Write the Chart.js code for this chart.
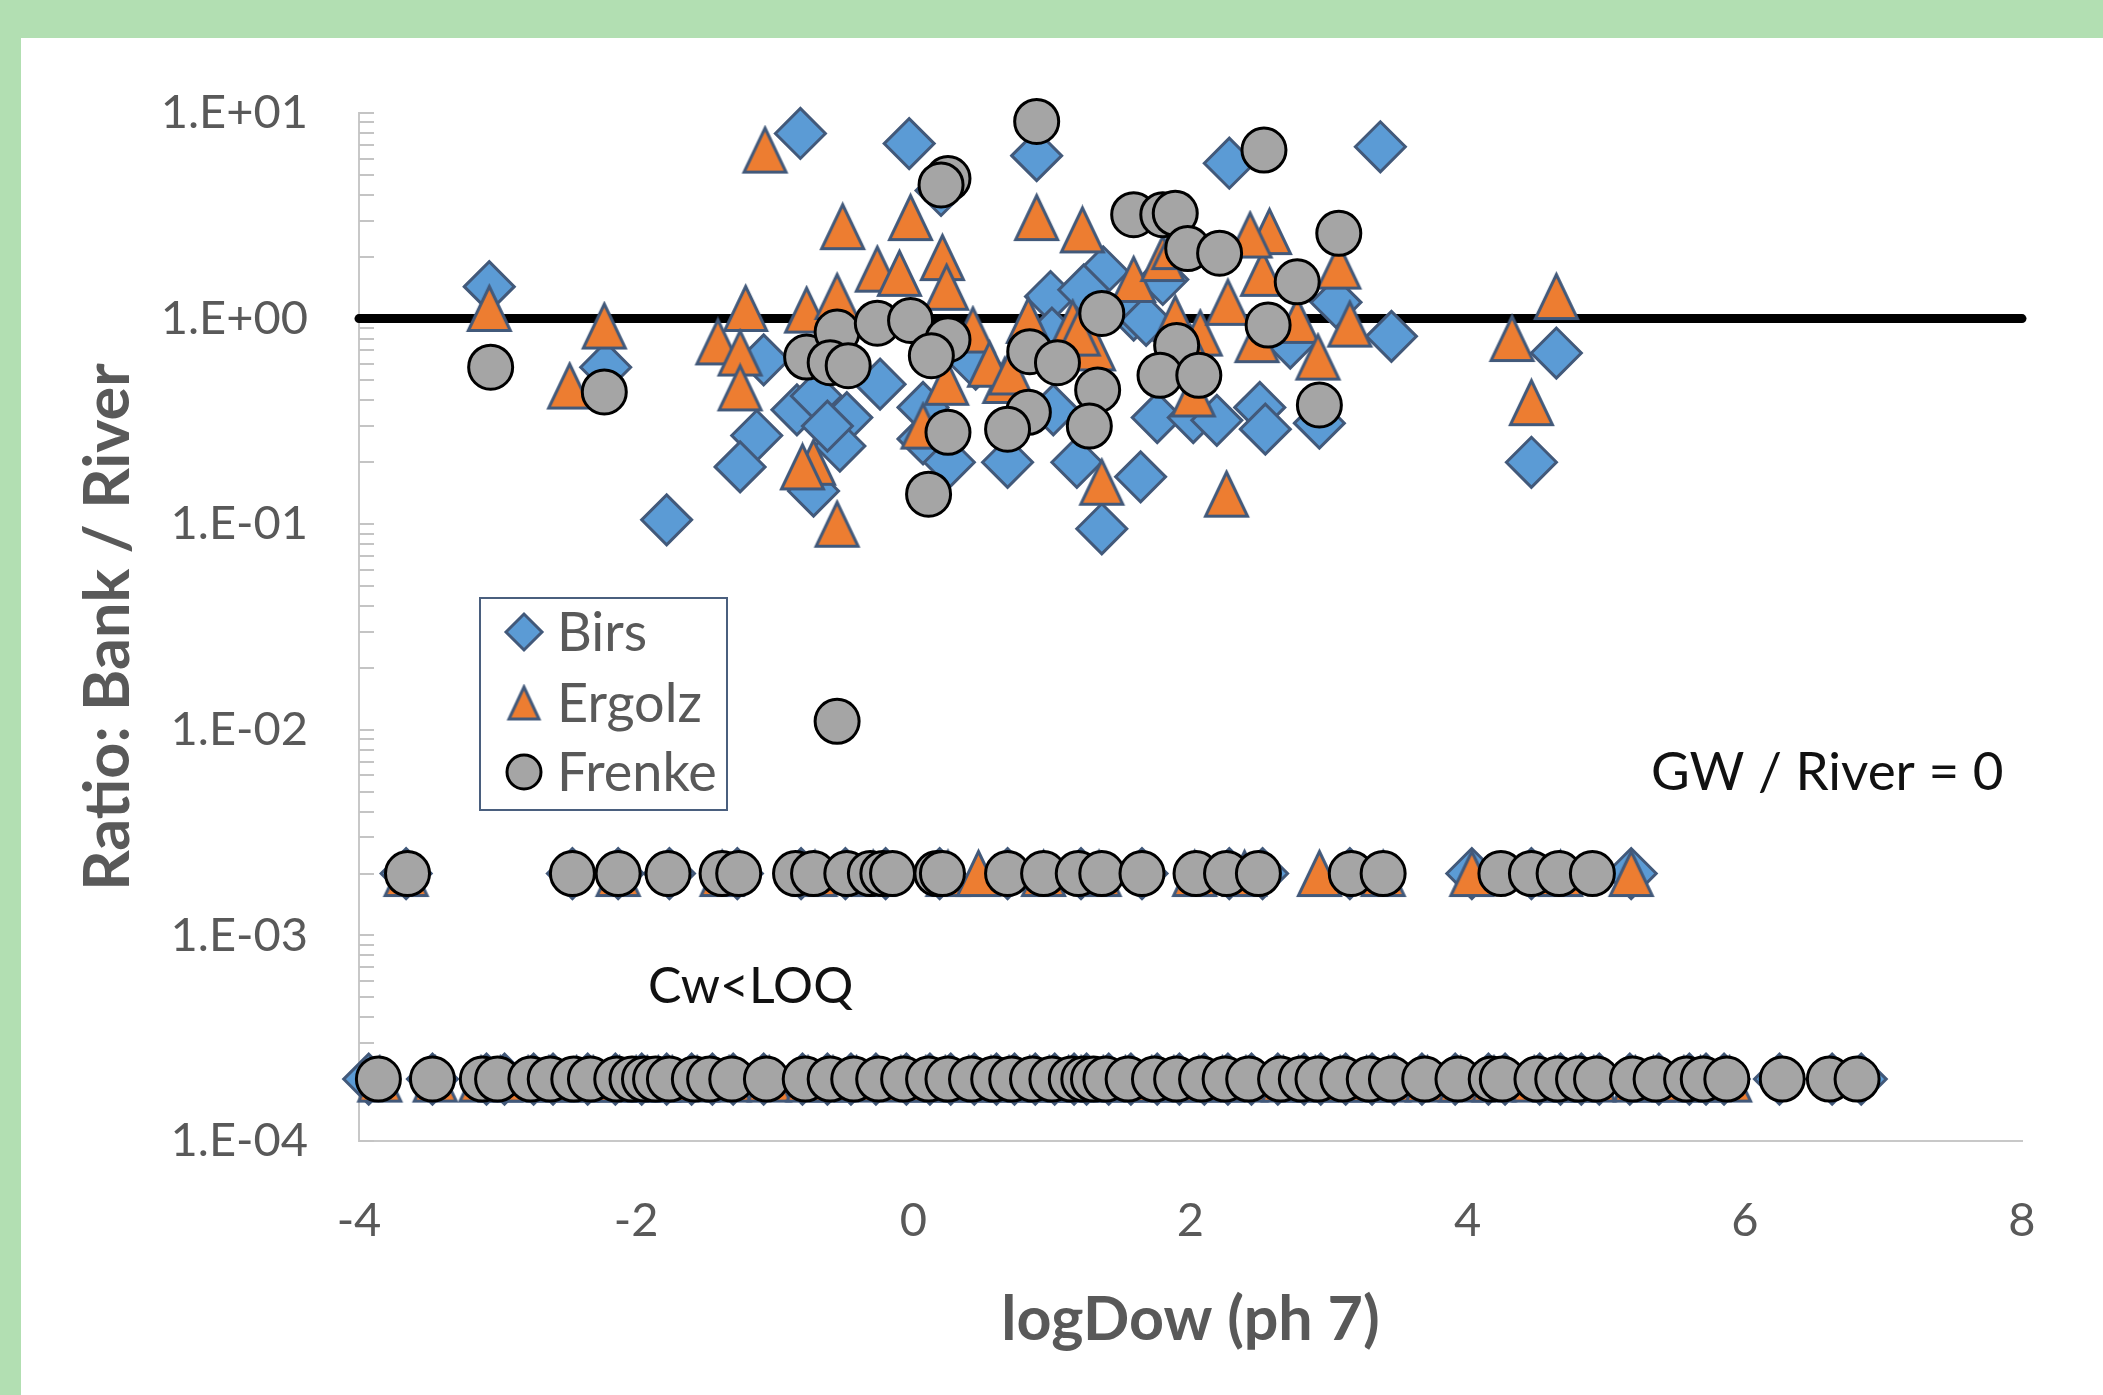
<!DOCTYPE html>
<html><head><meta charset="utf-8">
<script src="https://cdn.jsdelivr.net/npm/chart.js@4/dist/chart.umd.min.js"></script>
<style>
html,body{margin:0;padding:0;background:#b2dfb2;width:2103px;height:1395px;overflow:hidden}
#panel{position:absolute;left:21px;top:38px;right:0;bottom:0;background:#ffffff}
canvas{position:absolute;left:0;top:0}
</style></head><body>
<div id="panel"></div>
<canvas id="c" width="2103" height="1395"></canvas>
<script>
// ---------- DATA ----------
const seriesNames = ['Birs', 'Ergolz', 'Frenke'];
const xTickValues = [-4, -2, 0, 2, 4, 6, 8];
const yTickValues = [1e-4, 1e-3, 1e-2, 1e-1, 1, 10];
const yTickLabels = ['1.E-04', '1.E-03', '1.E-02', '1.E-01', '1.E+00', '1.E+01'];
const xTitle = 'logDow (ph 7)';
const yTitle = 'Ratio: Bank / River';
const noteGw = 'GW / River = 0';
const noteLoq = 'Cw<LOQ';
const gwZeroRatio = 2e-3;   // plotted level for GW / River = 0
const cwLoqRatio = 2e-4;    // plotted level for Cw<LOQ
const unityX = [-4, 8];
const unityY = [1, 1];

// Birs (quantified)
const birsX = [-3.06,-2.22,-1.78,-1.08,-1.13,-1.25,-0.84,-0.70,-0.48,-0.53,-0.72,-0.24,0.07,0.07,0.26,
  -0.815,-0.03,0.89,2.28,3.37,0.20,0.99,1.37,1.59,1.80,3.05,3.45,0.68,1.18,1.64,1.36,1.76,2.02,2.19,
  2.50,2.54,2.93,4.64,4.46,1.23,-0.62,1.01,2.72,1.00,1.68,0.45];
const birsY = [1.43,0.58,0.105,0.63,0.27,0.19,0.36,0.42,0.33,0.24,0.145,0.48,0.37,0.26,0.20,
  7.95,7.1,6.2,5.7,6.85,4.2,1.28,1.69,1.04,1.55,1.20,0.82,0.20,0.20,0.17,0.095,0.33,0.33,0.32,
  0.37,0.29,0.31,0.68,0.20,1.38,0.30,0.36,0.76,0.85,0.98,0.60];
const birsGwZeroX = [-3.66,-2.46,-2.13,-1.76,-1.27,-0.81,-0.49,-0.20,0.19,0.68,1.21,1.65,2.28,2.52,3.15,4.03,4.46,5.18];
const birsCwLoqX = [-3.93,-3.47,-3.08,-2.95,-2.74,-2.60,-2.35,-2.15,-1.96,-1.78,-1.60,-1.45,-1.30,-1.08,-0.80,
  -0.62,-0.45,-0.27,-0.05,0.12,0.27,0.44,0.60,0.73,0.88,1.02,1.16,1.25,1.41,1.57,1.76,1.92,2.10,2.27,2.44,
  2.63,2.82,2.94,3.12,3.31,3.47,3.67,3.91,4.15,4.27,4.52,4.67,4.82,4.95,5.17,5.38,5.60,5.72,5.85,6.25,6.63,6.84];

// Ergolz (quantified)
const ergolzX = [-3.06,-2.23,-2.48,-1.21,-1.41,-1.25,-1.25,-0.77,-0.55,-0.51,-0.26,-0.10,-0.02,-0.72,-0.55,
  -1.07,0.89,1.22,0.21,0.24,0.43,0.24,0.83,1.15,0.66,1.30,1.59,1.80,1.89,2.07,2.27,2.52,2.57,2.43,2.48,
  2.77,2.92,3.15,3.07,1.36,2.26,2.02,4.64,4.32,4.46,-0.80,1.88,0.55,0.07,0.70,1.19,2.00];
const ergolzY = [1.12,0.92,0.47,1.12,0.77,0.68,0.46,1.10,1.28,2.8,1.74,1.66,3.1,0.20,0.10,
  6.6,3.1,2.7,1.98,1.42,0.88,0.49,0.98,0.95,0.50,0.72,1.55,1.96,1.0,0.85,1.20,1.66,2.65,2.55,0.79,
  0.98,0.65,0.94,1.80,0.16,0.14,0.43,1.28,0.80,0.39,0.19,2.24,0.60,0.30,0.55,0.85,0.72];
const ergolzGwZeroX = [-3.66,-2.13,-1.38,-0.71,-0.29,0.25,0.47,0.94,1.34,2.03,2.39,2.93,3.39,4.03,4.67,5.18];
const ergolzCwLoqX = [-3.85,-3.45,-3.12,-2.98,-2.78,-2.63,-2.43,-2.31,-2.12,-2.00,-1.92,-1.84,-1.74,-1.56,-1.33,
  -1.04,-0.76,-0.58,-0.41,-0.09,0.09,0.23,0.40,0.56,0.69,0.84,0.98,1.12,1.21,1.37,1.53,1.72,1.88,2.06,2.23,
  2.40,2.67,2.78,2.90,3.08,3.27,3.43,3.71,3.95,4.19,4.48,4.63,4.78,4.91,5.21,5.34,5.56,5.68,5.89];

// Frenke (quantified)
const frenkeX = [-3.05,-2.23,-0.77,-0.55,-0.60,-0.47,-0.26,-0.02,0.11,0.25,0.25,0.84,1.04,0.83,0.68,
  1.36,1.33,1.27,1.90,1.78,2.06,1.59,1.80,1.89,1.98,2.21,3.07,2.77,2.56,2.93,0.89,2.53,0.25,0.20,0.13,-0.55];
const frenkeY = [0.58,0.44,0.65,0.86,0.61,0.59,0.95,0.98,0.14,0.79,0.28,0.69,0.61,0.35,0.29,
  1.06,0.45,0.30,0.74,0.53,0.53,3.2,3.2,3.25,2.19,2.08,2.6,1.51,0.93,0.38,9.1,6.6,4.8,4.47,0.66,0.011];
const frenkeGwZeroX = [-3.65,-2.46,-2.13,-1.77,-1.38,-1.26,-0.85,-0.72,-0.48,-0.31,-0.22,-0.15,0.17,0.21,
  0.68,0.94,1.19,1.36,1.65,2.04,2.26,2.49,3.16,3.39,4.24,4.46,4.66,4.90];
const frenkeCwLoqX = [-3.86,-3.47,-3.11,-3.00,-2.76,-2.62,-2.45,-2.33,-2.14,-2.03,-1.94,-1.86,-1.76,-1.58,-1.47,
  -1.31,-1.06,-0.78,-0.60,-0.43,-0.25,-0.07,0.11,0.25,0.42,0.58,0.71,0.86,1.00,1.14,1.23,1.30,1.39,1.55,1.74,
  1.90,2.08,2.25,2.42,2.65,2.80,2.92,3.10,3.29,3.45,3.69,3.93,4.17,4.25,4.50,4.65,4.80,4.93,5.19,5.36,5.58,
  5.70,5.87,6.27,6.61,6.81];

// ---------- BUILD ----------
function pts(xs, ys) { return xs.map((x, i) => ({x, y: ys[i]})); }
function row(xs, level) { return xs.map(x => ({x, y: level})); }

const FONT = 'Lato, "Open Sans", "DejaVu Sans", sans-serif';
const GREY_TEXT = '#595959';
const MARKER_EDGE = '#42597a';

// Excel-like isosceles triangle marker (centred on its bounding box)
function triangleMarker(w, h, fill, edge, lw) {
  const c = document.createElement('canvas');
  c.width = w + 4; c.height = h + 4;
  const g = c.getContext('2d');
  g.beginPath();
  g.moveTo(c.width / 2, 2 + lw / 2);
  g.lineTo(c.width - 2 - lw / 2, c.height - 2 - lw / 2);
  g.lineTo(2 + lw / 2, c.height - 2 - lw / 2);
  g.closePath();
  g.fillStyle = fill; g.fill();
  g.lineWidth = lw; g.strokeStyle = edge; g.lineJoin = 'miter'; g.stroke();
  return c;
}

const styles = [
  {pointStyle: 'rectRot', radius: 25, bg: '#5b9bd5', border: MARKER_EDGE},
  {pointStyle: triangleMarker(45, 47, '#ed7d31', MARKER_EDGE, 3), radius: 25, bg: '#ed7d31', border: MARKER_EDGE},
  {pointStyle: 'circle', radius: 22, bg: '#a5a5a5', border: '#000000'}
];
const legendTriangle = triangleMarker(33, 35, '#ed7d31', MARKER_EDGE, 3);

const seriesData = [
  pts(birsX, birsY).concat(row(birsGwZeroX, gwZeroRatio), row(birsCwLoqX, cwLoqRatio)),
  pts(ergolzX, ergolzY).concat(row(ergolzGwZeroX, gwZeroRatio), row(ergolzCwLoqX, cwLoqRatio)),
  pts(frenkeX, frenkeY).concat(row(frenkeGwZeroX, gwZeroRatio), row(frenkeCwLoqX, cwLoqRatio))
];

const datasets = seriesNames.map((name, i) => ({
  label: name,
  data: seriesData[i],
  pointStyle: styles[i].pointStyle,
  pointRadius: styles[i].radius,
  pointHoverRadius: styles[i].radius,
  pointBackgroundColor: styles[i].bg,
  pointBorderColor: styles[i].border,
  pointBorderWidth: 3,
  showLine: false,
  clip: false,
  order: 3 - i
}));
datasets.push({
  label: 'ratio = 1',
  data: pts(unityX, unityY),
  showLine: true,
  borderColor: '#000000',
  borderWidth: 9,
  borderCapStyle: 'round',
  pointRadius: 0,
  clip: false,
  order: 10
});

// minor log ticks on the inner side of the value axis
const innerTicks = {
  id: 'innerTicks',
  beforeDatasetsDraw(chart) {
    const ys = chart.scales.y, ctx = chart.ctx, left = chart.chartArea.left;
    ctx.save();
    ctx.strokeStyle = '#c4c4c4';
    ctx.lineWidth = 2;
    ctx.beginPath();
    for (let d = 0; d < yTickValues.length; d++) {
      const base = yTickValues[d];
      const maxM = d === yTickValues.length - 1 ? 1 : 9;
      for (let m = 1; m <= maxM; m++) {
        const py = Math.round(ys.getPixelForValue(base * m));
        ctx.moveTo(left, py);
        ctx.lineTo(left + 15, py);
      }
    }
    ctx.stroke();
    ctx.restore();
  }
};

// legend box and text notes
const overlay = {
  id: 'overlay',
  afterDraw(chart) {
    const ctx = chart.ctx;
    ctx.save();
    ctx.strokeStyle = '#4a5f7e';
    ctx.lineWidth = 2;
    ctx.strokeRect(480, 598, 247, 212);
    const rowsY = [632, 703, 772];
    const legendPts = [
      {pointStyle: 'rectRot', radius: 18},
      {pointStyle: legendTriangle, radius: 18},
      {pointStyle: 'circle', radius: 17}
    ];
    ctx.font = '54px ' + FONT;
    ctx.textBaseline = 'middle';
    ctx.textAlign = 'left';
    seriesNames.forEach((name, i) => {
      const st = styles[i];
      ctx.fillStyle = st.bg;
      ctx.strokeStyle = st.border;
      ctx.lineWidth = 3;
      Chart.helpers.drawPoint(ctx, {pointStyle: legendPts[i].pointStyle, radius: legendPts[i].radius, rotation: 0, borderWidth: 3}, 524, rowsY[i]);
      ctx.fillStyle = GREY_TEXT;
      ctx.fillText(name, 557, rowsY[i] + 2);
    });
    ctx.fillStyle = '#111111';
    ctx.textBaseline = 'alphabetic';
    ctx.font = '53px ' + FONT;
    ctx.fillText(noteGw, 1651, 790);
    ctx.font = '50px ' + FONT;
    ctx.fillText(noteLoq, 648, 1003);
    ctx.restore();
  }
};

Chart.defaults.font.family = FONT;

new Chart(document.getElementById('c'), {
  type: 'scatter',
  data: {datasets},
  options: {
    responsive: false,
    animation: false,
    devicePixelRatio: 1,
    events: [],
    layout: {padding: {left: 0, top: 113, right: 81, bottom: 0}},
    plugins: {legend: {display: false}, tooltip: {enabled: false}},
    scales: {
      x: {
        type: 'linear', min: -4, max: 8,
        afterBuildTicks(s) { s.ticks = xTickValues.map(v => ({value: v})); },
        ticks: {color: GREY_TEXT, font: {size: 47}, padding: 52, callback: v => String(v)},
        grid: {display: false, drawTicks: false},
        border: {display: true, color: '#c8c8c8', width: 2},
        title: {display: true, text: xTitle, color: GREY_TEXT, font: {size: 61, weight: 'bold'}, padding: {top: 0, bottom: 38}},
        afterFit(s) { s.height = 254; }
      },
      y: {
        type: 'logarithmic', min: 1e-4, max: 10,
        afterBuildTicks(s) { s.ticks = yTickValues.map(v => ({value: v})); },
        ticks: {color: GREY_TEXT, font: {size: 47}, padding: 51,
          callback: v => yTickLabels[yTickValues.indexOf(v)]},
        grid: {display: false, drawTicks: false},
        border: {display: true, color: '#c8c8c8', width: 2},
        title: {display: true, text: yTitle, color: GREY_TEXT, font: {size: 63, weight: 'bold'}, padding: {top: 71, bottom: 0}},
        afterFit(s) { s.width = 359; }
      }
    }
  },
  plugins: [innerTicks, overlay]
});
</script>
</body></html>
